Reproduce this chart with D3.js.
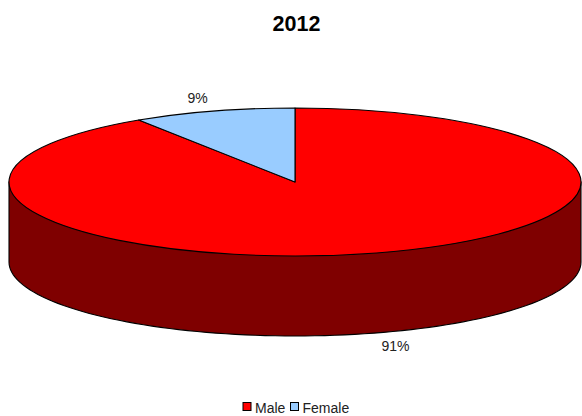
<!DOCTYPE html>
<html>
<head>
<meta charset="utf-8">
<script src="https://cdn.jsdelivr.net/npm/d3@7"></script>
<style>
html,body{margin:0;padding:0;background:#fff}
svg{display:block}
text{font-family:"Liberation Sans",Arial,sans-serif}
</style>
</head>
<body>
<div id="chart"></div>
<script>
const title = "2012";
const categories = ["Male", "Female"];
const values = [90.8, 9.2];
const labels = ["91%", "9%"];
const topColors = ["#ff0000", "#99ccff"];
const wallColor = "#7f0000";

const W = 582, H = 416;
const cx = 295, cy = 182, rx = 286, ry = 74, depth = 80;

const svg = d3.select("#chart").append("svg").attr("width", W).attr("height", H);

svg.append("text").attr("x", 296.5).attr("y", 31).attr("text-anchor", "middle")
  .attr("font-size", 21.5).attr("font-weight", "bold").attr("fill", "#000").text(title);

const pie = d3.pie().sort(null).value(d => d);
const arcs = pie(values);

// Wall: visible front half of the cylinder
const wallEdge = d3.line().x(a => cx + rx * Math.cos(a)).y(a => cy + depth + ry * Math.sin(a));
const wallAngles = d3.range(0, 181, 2).map(d => Math.PI - d * Math.PI / 180);
svg.append("path")
  .attr("d", `M${cx - rx},${cy}` + wallEdge(wallAngles).replace(/^M/, "L") + `L${cx + rx},${cy}Z`)
  .attr("fill", wallColor).attr("stroke", "#000").attr("stroke-width", 1.1);

// Top face: d3.arc in circular space, squashed to an ellipse
const arcGen = d3.arc().innerRadius(0).outerRadius(rx);
svg.append("g")
  .attr("transform", `translate(${cx},${cy}) scale(1,${ry / rx})`)
  .selectAll("path").data(arcs).join("path")
  .attr("d", arcGen)
  .attr("fill", (d, i) => topColors[i])
  .attr("stroke", "#000").attr("stroke-width", 1.1)
  .attr("vector-effect", "non-scaling-stroke")
  .attr("stroke-linejoin", "round");

// Data labels sit just outside the rim
const labelPos = [[395.5, 351], [197.5, 103]];
svg.selectAll(".lab").data(labels).join("text").attr("class", "lab")
  .attr("x", (d, i) => labelPos[i][0]).attr("y", (d, i) => labelPos[i][1])
  .attr("text-anchor", "middle").attr("font-size", 14).attr("fill", "#222").text(d => d);

// Legend
const legendX = [242.5, 290];
const lg = svg.selectAll(".lg").data(categories).join("g").attr("class", "lg")
  .attr("transform", (d, i) => `translate(${legendX[i]},402)`);
lg.append("rect").attr("x", 0.5).attr("y", 0.5).attr("width", 8).attr("height", 8)
  .attr("fill", (d, i) => topColors[i]).attr("stroke", "#000").attr("stroke-width", 1);
lg.append("text").attr("x", 12.5).attr("y", 10.5).attr("font-size", 14).attr("fill", "#222").text(d => d);
</script>
</body>
</html>
